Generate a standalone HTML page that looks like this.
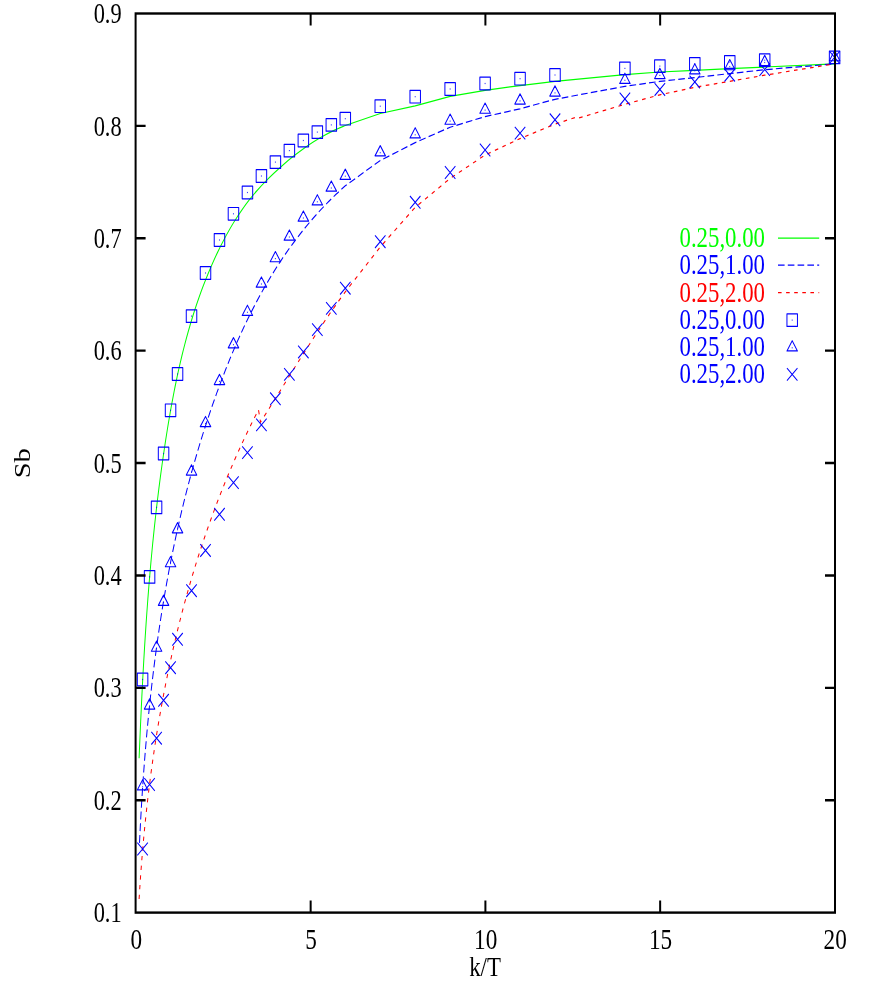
<!DOCTYPE html>
<html><head><meta charset="utf-8"><title>plot</title>
<style>
html,body{margin:0;padding:0;background:#fff;}
body{width:872px;height:981px;overflow:hidden;}
svg{display:block;will-change:transform;}
text{font-family:"Liberation Serif",serif;}
</style></head><body>
<svg width="872" height="981" viewBox="0 0 872 981">
<rect width="872" height="981" fill="#fff"/>
<g transform="scale(1 1.2)">

<g fill="none" stroke-width="1">
<path d="M139.10 631.92 C139.19 630.21 139.44 625.07 139.61 621.66 C139.78 618.24 139.96 614.82 140.14 611.40 C140.31 607.99 140.49 604.57 140.68 601.16 C140.87 597.75 141.05 594.34 141.25 590.93 C141.44 587.52 141.64 584.11 141.84 580.70 C142.04 577.30 142.25 573.89 142.46 570.49 C142.67 567.08 142.89 563.68 143.11 560.28 C143.34 556.88 143.57 553.48 143.80 550.08 C144.04 546.68 144.28 543.28 144.53 539.89 C144.77 536.49 145.03 533.09 145.29 529.70 C145.55 526.30 145.82 522.91 146.10 519.52 C146.38 516.12 146.66 512.73 146.96 509.34 C147.25 505.95 147.55 502.56 147.86 499.17 C148.18 495.78 148.49 492.39 148.82 489.00 C149.15 485.62 149.49 482.23 149.84 478.84 C150.19 475.46 150.55 472.07 150.91 468.69 C151.28 465.30 151.66 461.92 152.05 458.53 C152.44 455.15 152.84 451.76 153.25 448.38 C153.66 445.00 154.09 441.62 154.52 438.23 C154.96 434.85 155.40 431.47 155.86 428.09 C156.32 424.71 156.80 421.32 157.28 417.94 C157.76 414.56 158.26 411.18 158.77 407.80 C159.28 404.42 159.81 401.04 160.35 397.66 C160.89 394.28 161.44 390.90 162.00 387.52 C162.57 384.14 163.15 380.76 163.75 377.37 C164.35 373.99 164.96 370.61 165.58 367.23 C166.21 363.85 166.85 360.47 167.51 357.09 C168.17 353.71 168.85 350.33 169.55 346.96 C170.25 343.58 170.96 340.20 171.70 336.83 C172.45 333.46 173.21 330.10 174.00 326.74 C174.79 323.37 175.60 320.02 176.45 316.67 C177.29 313.32 178.16 309.97 179.06 306.64 C179.96 303.30 180.89 299.97 181.85 296.65 C182.82 293.33 183.81 290.02 184.85 286.72 C185.88 283.42 186.95 280.13 188.05 276.85 C189.16 273.57 190.30 270.30 191.48 267.04 C192.67 263.79 193.89 260.54 195.16 257.32 C196.43 254.09 197.73 250.87 199.09 247.67 C200.44 244.48 201.84 241.29 203.29 238.12 C204.74 234.96 206.23 231.81 207.78 228.67 C209.33 225.54 210.92 222.43 212.57 219.33 C214.22 216.24 215.92 213.16 217.68 210.11 C219.44 207.05 221.25 204.01 223.13 201.01 C225.01 198.00 226.94 195.02 228.96 192.07 C230.97 189.13 233.05 186.21 235.22 183.34 C237.39 180.47 239.64 177.63 241.98 174.85 C244.32 172.06 246.74 169.32 249.26 166.63 C251.79 163.95 254.41 161.31 257.13 158.73 C259.84 156.15 262.67 153.63 265.54 151.16 C268.42 148.70 271.39 146.28 274.40 143.93 C277.40 141.57 280.47 139.27 283.57 137.02 C286.68 134.78 289.82 132.59 293.02 130.47 C296.22 128.35 299.46 126.29 302.76 124.31 C306.06 122.33 309.41 120.42 312.83 118.59 C316.24 116.77 319.71 115.02 323.25 113.37 C326.79 111.71 330.39 110.14 334.06 108.68 C337.74 107.22 343.43 105.26 345.30 104.58 L380.25 94.58 L415.20 88.17 L450.15 80.25 L485.10 75.25 L520.00 71.33 L555.00 67.75 L624.90 62.25 L659.85 60.00 L694.80 58.58 L729.75 57.17 L764.70 55.83 L834.60 53.25" stroke="#00ff00"/>
<path d="M139.50 702.41 C139.60 700.72 139.89 695.64 140.09 692.25 C140.30 688.86 140.51 685.47 140.74 682.07 C140.96 678.68 141.20 675.28 141.44 671.88 C141.68 668.47 141.93 665.07 142.20 661.66 C142.46 658.25 142.73 654.85 143.01 651.43 C143.30 648.02 143.59 644.61 143.89 641.19 C144.20 637.78 144.51 634.36 144.84 630.94 C145.16 627.53 145.50 624.11 145.85 620.69 C146.20 617.27 146.56 613.84 146.93 610.42 C147.30 607.00 147.69 603.58 148.09 600.15 C148.48 596.73 148.89 593.30 149.32 589.88 C149.74 586.46 150.18 583.03 150.62 579.61 C151.07 576.18 151.54 572.76 152.01 569.33 C152.49 565.91 152.98 562.49 153.49 559.06 C153.99 555.64 154.51 552.22 155.05 548.80 C155.58 545.38 156.13 541.96 156.70 538.54 C157.26 535.12 157.84 531.70 158.44 528.29 C159.03 524.87 159.64 521.46 160.27 518.05 C160.90 514.64 161.54 511.23 162.20 507.82 C162.87 504.41 163.54 501.01 164.24 497.60 C164.93 494.20 165.64 490.80 166.37 487.40 C167.10 484.01 167.85 480.61 168.61 477.22 C169.37 473.83 170.16 470.44 170.96 467.06 C171.76 463.67 172.58 460.29 173.41 456.92 C174.25 453.54 175.11 450.16 175.99 446.80 C176.86 443.43 177.76 440.06 178.67 436.70 C179.59 433.34 180.52 429.98 181.48 426.63 C182.43 423.28 183.41 419.94 184.40 416.59 C185.40 413.25 186.42 409.92 187.45 406.58 C188.49 403.25 189.55 399.93 190.63 396.61 C191.71 393.29 192.81 389.97 193.94 386.66 C195.06 383.36 196.21 380.05 197.37 376.76 C198.54 373.46 199.73 370.17 200.95 366.89 C202.16 363.60 203.40 360.33 204.66 357.06 C205.92 353.79 207.20 350.53 208.51 347.27 C209.81 344.01 211.14 340.76 212.50 337.52 C213.85 334.28 215.23 331.05 216.63 327.82 C218.04 324.60 219.47 321.38 220.92 318.17 C222.37 314.96 223.85 311.76 225.36 308.57 C226.87 305.38 228.40 302.19 229.96 299.02 C231.53 295.85 233.12 292.69 234.74 289.55 C236.37 286.40 238.02 283.27 239.71 280.15 C241.40 277.04 243.13 273.93 244.89 270.84 C246.65 267.76 248.44 264.68 250.27 261.63 C252.11 258.58 253.97 255.54 255.88 252.52 C257.79 249.51 259.74 246.51 261.73 243.53 C263.73 240.56 265.76 237.60 267.84 234.66 C269.91 231.73 272.03 228.82 274.20 225.93 C276.37 223.04 278.58 220.18 280.84 217.34 C283.10 214.50 285.40 211.68 287.76 208.90 C290.12 206.11 292.53 203.35 294.99 200.61 C297.45 197.88 299.96 195.18 302.52 192.50 C305.09 189.83 307.71 187.19 310.38 184.57 C313.06 181.96 315.79 179.38 318.58 176.83 C321.37 174.28 324.21 171.77 327.12 169.29 C330.03 166.81 332.99 164.36 336.02 161.95 C339.05 159.54 343.75 156.01 345.30 154.83 L380.25 133.75 L415.20 118.83 L450.15 106.00 L485.10 97.17 L520.00 90.67 L555.00 82.75 L624.90 71.92 L659.85 67.83 L694.80 64.67 L729.75 61.33 L764.70 58.08 L834.60 53.25" stroke="#0000ff" stroke-dasharray="6.6 3.2"/>
<path d="M139.10 749.17 C139.23 747.46 139.60 742.33 139.87 738.91 C140.14 735.50 140.42 732.08 140.72 728.66 C141.01 725.24 141.32 721.82 141.65 718.39 C141.97 714.97 142.31 711.55 142.66 708.13 C143.01 704.71 143.38 701.29 143.76 697.87 C144.14 694.44 144.54 691.02 144.95 687.60 C145.36 684.18 145.78 680.76 146.23 677.34 C146.67 673.92 147.12 670.50 147.60 667.08 C148.07 663.66 148.56 660.25 149.06 656.83 C149.57 653.41 150.09 650.00 150.63 646.59 C151.16 643.17 151.72 639.76 152.29 636.35 C152.86 632.94 153.44 629.53 154.05 626.13 C154.65 622.72 155.27 619.32 155.91 615.91 C156.55 612.51 157.21 609.11 157.88 605.71 C158.56 602.32 159.25 598.92 159.96 595.53 C160.67 592.14 161.40 588.75 162.15 585.36 C162.90 581.98 163.66 578.60 164.45 575.22 C165.23 571.84 166.04 568.46 166.86 565.09 C167.68 561.72 168.52 558.35 169.39 554.98 C170.25 551.62 171.13 548.26 172.03 544.90 C172.93 541.54 173.85 538.19 174.80 534.84 C175.74 531.50 176.70 528.15 177.68 524.81 C178.67 521.48 179.67 518.14 180.69 514.81 C181.72 511.48 182.76 508.16 183.83 504.84 C184.90 501.52 185.99 498.21 187.10 494.90 C188.21 491.59 189.34 488.29 190.49 484.99 C191.65 481.70 192.82 478.41 194.02 475.12 C195.22 471.84 196.44 468.56 197.68 465.29 C198.93 462.02 200.19 458.75 201.48 455.49 C202.77 452.23 204.08 448.98 205.42 445.73 C206.76 442.49 208.11 439.25 209.50 436.02 C210.88 432.79 212.29 429.56 213.72 426.35 C215.15 423.13 216.61 419.92 218.09 416.72 C219.57 413.52 221.07 410.32 222.60 407.14 C224.13 403.95 225.68 400.77 227.26 397.60 C228.84 394.43 230.45 391.27 232.08 388.12 C233.71 384.96 235.36 381.82 237.05 378.68 C238.73 375.55 240.44 372.42 242.17 369.30 C243.90 366.19 245.66 363.08 247.45 359.98 C249.24 356.88 251.05 353.79 252.89 350.71 C254.73 347.63 257.56 343.03 258.49 341.50 L260.50 351.75 C261.76 350.09 265.54 345.12 268.04 341.79 C270.55 338.47 273.05 335.14 275.54 331.81 C278.04 328.48 280.53 325.15 283.02 321.82 C285.52 318.49 288.01 315.15 290.51 311.82 C293.02 308.50 295.52 305.17 298.04 301.85 C300.55 298.53 303.08 295.21 305.62 291.90 C308.16 288.60 310.71 285.29 313.28 282.00 C315.86 278.72 318.44 275.43 321.06 272.17 C323.67 268.90 326.31 265.64 328.97 262.41 C331.63 259.17 334.32 255.94 337.04 252.73 C339.76 249.53 343.92 244.76 345.30 243.17 L380.25 205.83 L415.20 172.75 L450.15 148.67 L485.10 129.17 L520.00 115.50 L555.00 103.42 L575.90 97.75 L577.70 98.58 L624.90 86.92 L659.85 79.00 L694.80 72.75 L729.75 67.75 L764.70 62.67 L834.60 53.25" stroke="#ff0000" stroke-dasharray="3.6 4.5"/>
<path d="M778 198.50H819.2" stroke="#00ff00"/>
<path d="M778 221.00H819.2" stroke="#0000ff" stroke-dasharray="6.6 3.2"/>
<path d="M778 243.92H819.2" stroke="#ff0000" stroke-dasharray="3.6 4.5"/>
</g>
<g fill="none" stroke="#0000ff" stroke-width="1" stroke-linejoin="round">
<rect x="137.34" y="561.00" width="10.50" height="10.50"/>
<rect x="142.09" y="565.75" width="1" height="1" fill="#00f" stroke="none" opacity="0.8"/>
<rect x="144.33" y="475.50" width="10.50" height="10.50"/>
<rect x="149.08" y="480.25" width="1" height="1" fill="#00f" stroke="none" opacity="0.8"/>
<rect x="151.32" y="417.58" width="10.50" height="10.50"/>
<rect x="156.07" y="422.33" width="1" height="1" fill="#00f" stroke="none" opacity="0.8"/>
<rect x="158.31" y="372.67" width="10.50" height="10.50"/>
<rect x="163.06" y="377.42" width="1" height="1" fill="#00f" stroke="none" opacity="0.8"/>
<rect x="165.30" y="336.67" width="10.50" height="10.50"/>
<rect x="170.05" y="341.42" width="1" height="1" fill="#00f" stroke="none" opacity="0.8"/>
<rect x="172.29" y="306.42" width="10.50" height="10.50"/>
<rect x="177.04" y="311.17" width="1" height="1" fill="#00f" stroke="none" opacity="0.8"/>
<rect x="186.27" y="258.17" width="10.50" height="10.50"/>
<rect x="191.02" y="262.92" width="1" height="1" fill="#00f" stroke="none" opacity="0.8"/>
<rect x="200.25" y="222.25" width="10.50" height="10.50"/>
<rect x="205.00" y="227.00" width="1" height="1" fill="#00f" stroke="none" opacity="0.8"/>
<rect x="214.23" y="194.75" width="10.50" height="10.50"/>
<rect x="218.98" y="199.50" width="1" height="1" fill="#00f" stroke="none" opacity="0.8"/>
<rect x="228.21" y="172.92" width="10.50" height="10.50"/>
<rect x="232.96" y="177.67" width="1" height="1" fill="#00f" stroke="none" opacity="0.8"/>
<rect x="242.19" y="155.17" width="10.50" height="10.50"/>
<rect x="246.94" y="159.92" width="1" height="1" fill="#00f" stroke="none" opacity="0.8"/>
<rect x="256.17" y="141.42" width="10.50" height="10.50"/>
<rect x="260.92" y="146.17" width="1" height="1" fill="#00f" stroke="none" opacity="0.8"/>
<rect x="270.15" y="129.83" width="10.50" height="10.50"/>
<rect x="274.90" y="134.58" width="1" height="1" fill="#00f" stroke="none" opacity="0.8"/>
<rect x="284.13" y="120.25" width="10.50" height="10.50"/>
<rect x="288.88" y="125.00" width="1" height="1" fill="#00f" stroke="none" opacity="0.8"/>
<rect x="298.11" y="111.83" width="10.50" height="10.50"/>
<rect x="302.86" y="116.58" width="1" height="1" fill="#00f" stroke="none" opacity="0.8"/>
<rect x="312.09" y="104.83" width="10.50" height="10.50"/>
<rect x="316.84" y="109.58" width="1" height="1" fill="#00f" stroke="none" opacity="0.8"/>
<rect x="326.07" y="98.83" width="10.50" height="10.50"/>
<rect x="330.82" y="103.58" width="1" height="1" fill="#00f" stroke="none" opacity="0.8"/>
<rect x="340.05" y="93.67" width="10.50" height="10.50"/>
<rect x="344.80" y="98.42" width="1" height="1" fill="#00f" stroke="none" opacity="0.8"/>
<rect x="375.00" y="83.25" width="10.50" height="10.50"/>
<rect x="379.75" y="88.00" width="1" height="1" fill="#00f" stroke="none" opacity="0.8"/>
<rect x="409.95" y="75.33" width="10.50" height="10.50"/>
<rect x="414.70" y="80.08" width="1" height="1" fill="#00f" stroke="none" opacity="0.8"/>
<rect x="444.90" y="68.92" width="10.50" height="10.50"/>
<rect x="449.65" y="73.67" width="1" height="1" fill="#00f" stroke="none" opacity="0.8"/>
<rect x="479.85" y="64.33" width="10.50" height="10.50"/>
<rect x="484.60" y="69.08" width="1" height="1" fill="#00f" stroke="none" opacity="0.8"/>
<rect x="514.80" y="60.33" width="10.50" height="10.50"/>
<rect x="519.55" y="65.08" width="1" height="1" fill="#00f" stroke="none" opacity="0.8"/>
<rect x="549.75" y="57.25" width="10.50" height="10.50"/>
<rect x="554.50" y="62.00" width="1" height="1" fill="#00f" stroke="none" opacity="0.8"/>
<rect x="619.65" y="51.75" width="10.50" height="10.50"/>
<rect x="624.40" y="56.50" width="1" height="1" fill="#00f" stroke="none" opacity="0.8"/>
<rect x="654.60" y="49.83" width="10.50" height="10.50"/>
<rect x="659.35" y="54.58" width="1" height="1" fill="#00f" stroke="none" opacity="0.8"/>
<rect x="689.55" y="48.00" width="10.50" height="10.50"/>
<rect x="694.30" y="52.75" width="1" height="1" fill="#00f" stroke="none" opacity="0.8"/>
<rect x="724.50" y="46.42" width="10.50" height="10.50"/>
<rect x="729.25" y="51.17" width="1" height="1" fill="#00f" stroke="none" opacity="0.8"/>
<rect x="759.45" y="44.92" width="10.50" height="10.50"/>
<rect x="764.20" y="49.67" width="1" height="1" fill="#00f" stroke="none" opacity="0.8"/>
<rect x="829.35" y="42.58" width="10.50" height="10.50"/>
<rect x="834.10" y="47.33" width="1" height="1" fill="#00f" stroke="none" opacity="0.8"/>
<path d="M142.59 649.79 L137.34 658.29 L147.84 658.29 Z"/>
<rect x="142.09" y="655.17" width="1" height="1" fill="#00f" stroke="none" opacity="0.8"/>
<path d="M149.58 582.37 L144.33 590.88 L154.83 590.88 Z"/>
<rect x="149.08" y="587.75" width="1" height="1" fill="#00f" stroke="none" opacity="0.8"/>
<path d="M156.57 534.20 L151.32 542.71 L161.82 542.71 Z"/>
<rect x="156.07" y="539.58" width="1" height="1" fill="#00f" stroke="none" opacity="0.8"/>
<path d="M163.56 495.95 L158.31 504.46 L168.81 504.46 Z"/>
<rect x="163.06" y="501.33" width="1" height="1" fill="#00f" stroke="none" opacity="0.8"/>
<path d="M170.55 463.79 L165.30 472.29 L175.80 472.29 Z"/>
<rect x="170.05" y="469.17" width="1" height="1" fill="#00f" stroke="none" opacity="0.8"/>
<path d="M177.54 435.54 L172.29 444.04 L182.79 444.04 Z"/>
<rect x="177.04" y="440.92" width="1" height="1" fill="#00f" stroke="none" opacity="0.8"/>
<path d="M191.52 387.37 L186.27 395.88 L196.77 395.88 Z"/>
<rect x="191.02" y="392.75" width="1" height="1" fill="#00f" stroke="none" opacity="0.8"/>
<path d="M205.50 347.04 L200.25 355.54 L210.75 355.54 Z"/>
<rect x="205.00" y="352.42" width="1" height="1" fill="#00f" stroke="none" opacity="0.8"/>
<path d="M219.48 311.95 L214.23 320.46 L224.73 320.46 Z"/>
<rect x="218.98" y="317.33" width="1" height="1" fill="#00f" stroke="none" opacity="0.8"/>
<path d="M233.46 281.37 L228.21 289.88 L238.71 289.88 Z"/>
<rect x="232.96" y="286.75" width="1" height="1" fill="#00f" stroke="none" opacity="0.8"/>
<path d="M247.44 254.37 L242.19 262.88 L252.69 262.88 Z"/>
<rect x="246.94" y="259.75" width="1" height="1" fill="#00f" stroke="none" opacity="0.8"/>
<path d="M261.42 230.79 L256.17 239.29 L266.67 239.29 Z"/>
<rect x="260.92" y="236.17" width="1" height="1" fill="#00f" stroke="none" opacity="0.8"/>
<path d="M275.40 209.62 L270.15 218.13 L280.65 218.13 Z"/>
<rect x="274.90" y="215.00" width="1" height="1" fill="#00f" stroke="none" opacity="0.8"/>
<path d="M289.38 191.62 L284.13 200.12 L294.63 200.12 Z"/>
<rect x="288.88" y="197.00" width="1" height="1" fill="#00f" stroke="none" opacity="0.8"/>
<path d="M303.36 175.79 L298.11 184.29 L308.61 184.29 Z"/>
<rect x="302.86" y="181.17" width="1" height="1" fill="#00f" stroke="none" opacity="0.8"/>
<path d="M317.34 162.29 L312.09 170.79 L322.59 170.79 Z"/>
<rect x="316.84" y="167.67" width="1" height="1" fill="#00f" stroke="none" opacity="0.8"/>
<path d="M331.32 150.79 L326.07 159.29 L336.57 159.29 Z"/>
<rect x="330.82" y="156.17" width="1" height="1" fill="#00f" stroke="none" opacity="0.8"/>
<path d="M345.30 140.95 L340.05 149.46 L350.55 149.46 Z"/>
<rect x="344.80" y="146.33" width="1" height="1" fill="#00f" stroke="none" opacity="0.8"/>
<path d="M380.25 121.37 L375.00 129.88 L385.50 129.88 Z"/>
<rect x="379.75" y="126.75" width="1" height="1" fill="#00f" stroke="none" opacity="0.8"/>
<path d="M415.20 106.45 L409.95 114.96 L420.45 114.96 Z"/>
<rect x="414.70" y="111.83" width="1" height="1" fill="#00f" stroke="none" opacity="0.8"/>
<path d="M450.15 95.04 L444.90 103.54 L455.40 103.54 Z"/>
<rect x="449.65" y="100.42" width="1" height="1" fill="#00f" stroke="none" opacity="0.8"/>
<path d="M485.10 85.87 L479.85 94.38 L490.35 94.38 Z"/>
<rect x="484.60" y="91.25" width="1" height="1" fill="#00f" stroke="none" opacity="0.8"/>
<path d="M520.05 78.20 L514.80 86.71 L525.30 86.71 Z"/>
<rect x="519.55" y="83.58" width="1" height="1" fill="#00f" stroke="none" opacity="0.8"/>
<path d="M555.00 71.54 L549.75 80.04 L560.25 80.04 Z"/>
<rect x="554.50" y="76.92" width="1" height="1" fill="#00f" stroke="none" opacity="0.8"/>
<path d="M624.90 61.04 L619.65 69.54 L630.15 69.54 Z"/>
<rect x="624.40" y="66.42" width="1" height="1" fill="#00f" stroke="none" opacity="0.8"/>
<path d="M659.85 56.95 L654.60 65.46 L665.10 65.46 Z"/>
<rect x="659.35" y="62.33" width="1" height="1" fill="#00f" stroke="none" opacity="0.8"/>
<path d="M694.80 53.12 L689.55 61.62 L700.05 61.62 Z"/>
<rect x="694.30" y="58.50" width="1" height="1" fill="#00f" stroke="none" opacity="0.8"/>
<path d="M729.75 49.62 L724.50 58.12 L735.00 58.12 Z"/>
<rect x="729.25" y="55.00" width="1" height="1" fill="#00f" stroke="none" opacity="0.8"/>
<path d="M764.70 46.20 L759.45 54.71 L769.95 54.71 Z"/>
<rect x="764.20" y="51.58" width="1" height="1" fill="#00f" stroke="none" opacity="0.8"/>
<path d="M834.60 42.12 L829.35 50.62 L839.85 50.62 Z"/>
<rect x="834.10" y="47.50" width="1" height="1" fill="#00f" stroke="none" opacity="0.8"/>
<path d="M137.34 702.25 L147.84 712.75 M137.34 712.75 L147.84 702.25"/>
<path d="M144.33 648.50 L154.83 659.00 M144.33 659.00 L154.83 648.50"/>
<path d="M151.32 609.92 L161.82 620.42 M151.32 620.42 L161.82 609.92"/>
<path d="M158.31 578.33 L168.81 588.83 M158.31 588.83 L168.81 578.33"/>
<path d="M165.30 551.17 L175.80 561.67 M165.30 561.67 L175.80 551.17"/>
<path d="M172.29 527.50 L182.79 538.00 M172.29 538.00 L182.79 527.50"/>
<path d="M186.27 487.00 L196.77 497.50 M186.27 497.50 L196.77 487.00"/>
<path d="M200.25 453.42 L210.75 463.92 M200.25 463.92 L210.75 453.42"/>
<path d="M214.23 423.33 L224.73 433.83 M214.23 433.83 L224.73 423.33"/>
<path d="M228.21 396.92 L238.71 407.42 M228.21 407.42 L238.71 396.92"/>
<path d="M242.19 371.92 L252.69 382.42 M242.19 382.42 L252.69 371.92"/>
<path d="M256.17 348.83 L266.67 359.33 M256.17 359.33 L266.67 348.83"/>
<path d="M270.15 327.08 L280.65 337.58 M270.15 337.58 L280.65 327.08"/>
<path d="M284.13 306.75 L294.63 317.25 M284.13 317.25 L294.63 306.75"/>
<path d="M298.11 288.08 L308.61 298.58 M298.11 298.58 L308.61 288.08"/>
<path d="M312.09 269.42 L322.59 279.92 M312.09 279.92 L322.59 269.42"/>
<path d="M326.07 251.75 L336.57 262.25 M326.07 262.25 L336.57 251.75"/>
<path d="M340.05 234.92 L350.55 245.42 M340.05 245.42 L350.55 234.92"/>
<path d="M375.00 196.17 L385.50 206.67 M375.00 206.67 L385.50 196.17"/>
<path d="M409.95 163.33 L420.45 173.83 M409.95 173.83 L420.45 163.33"/>
<path d="M444.90 138.50 L455.40 149.00 M444.90 149.00 L455.40 138.50"/>
<path d="M479.85 119.75 L490.35 130.25 M479.85 130.25 L490.35 119.75"/>
<path d="M514.80 105.67 L525.30 116.17 M514.80 116.17 L525.30 105.67"/>
<path d="M549.75 94.58 L560.25 105.08 M549.75 105.08 L560.25 94.58"/>
<path d="M619.65 77.17 L630.15 87.67 M619.65 87.67 L630.15 77.17"/>
<path d="M654.60 69.33 L665.10 79.83 M654.60 79.83 L665.10 69.33"/>
<path d="M689.55 63.08 L700.05 73.58 M689.55 73.58 L700.05 63.08"/>
<path d="M724.50 57.42 L735.00 67.92 M724.50 67.92 L735.00 57.42"/>
<path d="M759.45 52.67 L769.95 63.17 M759.45 63.17 L769.95 52.67"/>
<path d="M829.35 42.58 L839.85 53.08 M829.35 53.08 L839.85 42.58"/>
<rect x="786.95" y="261.50" width="10.50" height="10.50"/>
<rect x="791.70" y="266.25" width="1" height="1" fill="#00f" stroke="none" opacity="0.8"/>
<path d="M792.20 283.95 L786.95 292.46 L797.45 292.46 Z"/>
<rect x="791.70" y="289.33" width="1" height="1" fill="#00f" stroke="none" opacity="0.8"/>
<path d="M786.95 306.75 L797.45 317.25 M786.95 317.25 L797.45 306.75"/>
</g>
<g stroke="#000" fill="none" stroke-width="2">
<rect x="135.60" y="11.25" width="699.40" height="749.25"/>
<path d="M135.60 104.91h10 M835.00 104.91h-10"/>
<path d="M135.60 198.56h10 M835.00 198.56h-10"/>
<path d="M135.60 292.22h10 M835.00 292.22h-10"/>
<path d="M135.60 385.88h10 M835.00 385.88h-10"/>
<path d="M135.60 479.53h10 M835.00 479.53h-10"/>
<path d="M135.60 573.19h10 M835.00 573.19h-10"/>
<path d="M135.60 666.84h10 M835.00 666.84h-10"/>
<path d="M310.65 760.50v-10 M310.65 11.25v10"/>
<path d="M485.40 760.50v-10 M485.40 11.25v10"/>
<path d="M660.15 760.50v-10 M660.15 11.25v10"/>
</g>
</g>
<text transform="translate(121.6 23.1) scale(0.965 1.280)" text-anchor="end" font-size="23.2" fill="#000">0.9</text>
<text transform="translate(121.6 135.5) scale(0.965 1.280)" text-anchor="end" font-size="23.2" fill="#000">0.8</text>
<text transform="translate(121.6 247.9) scale(0.965 1.280)" text-anchor="end" font-size="23.2" fill="#000">0.7</text>
<text transform="translate(121.6 360.3) scale(0.965 1.280)" text-anchor="end" font-size="23.2" fill="#000">0.6</text>
<text transform="translate(121.6 472.7) scale(0.965 1.280)" text-anchor="end" font-size="23.2" fill="#000">0.5</text>
<text transform="translate(121.6 585.0) scale(0.965 1.280)" text-anchor="end" font-size="23.2" fill="#000">0.4</text>
<text transform="translate(121.6 697.4) scale(0.965 1.280)" text-anchor="end" font-size="23.2" fill="#000">0.3</text>
<text transform="translate(121.6 809.8) scale(0.965 1.280)" text-anchor="end" font-size="23.2" fill="#000">0.2</text>
<text transform="translate(121.6 922.2) scale(0.965 1.280)" text-anchor="end" font-size="23.2" fill="#000">0.1</text>
<text transform="translate(136.2 949.4) scale(1.000 1.280)" text-anchor="middle" font-size="23.2" fill="#000">0</text>
<text transform="translate(311.0 949.4) scale(1.000 1.280)" text-anchor="middle" font-size="23.2" fill="#000">5</text>
<text transform="translate(485.7 949.4) scale(1.000 1.280)" text-anchor="middle" font-size="23.2" fill="#000">10</text>
<text transform="translate(660.5 949.4) scale(1.000 1.280)" text-anchor="middle" font-size="23.2" fill="#000">15</text>
<text transform="translate(835.2 949.4) scale(1.000 1.280)" text-anchor="middle" font-size="23.2" fill="#000">20</text>
<text transform="translate(485.0 976.3) scale(0.985 1.190)" text-anchor="middle" font-size="23.2" fill="#000">k/T</text>
<text transform="translate(30 463.3) rotate(-90) scale(1.23 1.015)" text-anchor="middle" font-size="23.2" fill="#000">Sb</text>
<text transform="translate(765.0 247.0) scale(1.000 1.300)" text-anchor="end" font-size="22.8" fill="#00ff00">0.25,0.00</text>
<text transform="translate(765.0 274.0) scale(1.000 1.300)" text-anchor="end" font-size="22.8" fill="#0000ff">0.25,1.00</text>
<text transform="translate(765.0 301.5) scale(1.000 1.300)" text-anchor="end" font-size="22.8" fill="#ff0000">0.25,2.00</text>
<text transform="translate(765.0 328.9) scale(1.000 1.300)" text-anchor="end" font-size="22.8" fill="#0000ff">0.25,0.00</text>
<text transform="translate(765.0 356.1) scale(1.000 1.300)" text-anchor="end" font-size="22.8" fill="#0000ff">0.25,1.00</text>
<text transform="translate(765.0 383.2) scale(1.000 1.300)" text-anchor="end" font-size="22.8" fill="#0000ff">0.25,2.00</text>
</svg></body></html>
